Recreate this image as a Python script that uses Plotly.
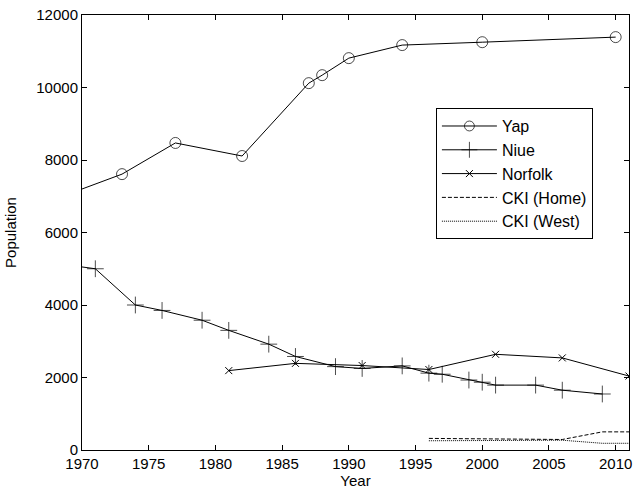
import plotly.graph_objects as go

yap_years = [1970, 1973, 1977, 1982, 1987, 1988, 1990, 1994, 2000, 2010]
yap_pop = [7200, 7610, 8470, 8110, 10120, 10340, 10810, 11170, 11250, 11390]

niue_years = [1970, 1971, 1974, 1976, 1979, 1981, 1984, 1986, 1989, 1991, 1994, 1996, 1997, 1999, 2000, 2001, 2004, 2006, 2009]
niue_pop = [5050, 5000, 4000, 3850, 3580, 3300, 2920, 2580, 2300, 2250, 2320, 2120, 2090, 1930, 1870, 1790, 1790, 1650, 1545]

norfolk_years = [1981, 1986, 1991, 1996, 2001, 2006, 2011]
norfolk_pop = [2190, 2390, 2330, 2220, 2640, 2540, 2040]

ckih_years = [1996, 2001, 2006, 2009, 2011]
ckih_pop = [320, 300, 290, 500, 500]

ckiw_years = [1996, 2001, 2006, 2009, 2011]
ckiw_pop = [255, 260, 270, 185, 185]

x_ticks = [1970, 1975, 1980, 1985, 1990, 1995, 2000, 2005, 2010]
y_ticks = [0, 2000, 4000, 6000, 8000, 10000, 12000]

FONT = "Liberation Sans, Arial, sans-serif"

fig = go.Figure()
fig.add_trace(go.Scatter(
    x=yap_years, y=yap_pop, name="Yap", mode="lines+markers",
    line=dict(color="black", width=1),
    marker=dict(symbol="circle-open", size=[0] + [11] * (len(yap_years) - 1),
                color="black", line=dict(width=1)),
))
fig.add_trace(go.Scatter(
    x=niue_years, y=niue_pop, name="Niue", mode="lines+markers",
    line=dict(color="black", width=1),
    marker=dict(symbol="cross-thin-open", size=[0] + [12] * (len(niue_years) - 1),
                color="black", line=dict(width=1, color="black")),
))
fig.add_trace(go.Scatter(
    x=norfolk_years, y=norfolk_pop, name="Norfolk", mode="lines+markers",
    line=dict(color="black", width=1),
    marker=dict(symbol="x-thin-open", size=7, color="black",
                line=dict(width=1, color="black")),
))
fig.add_trace(go.Scatter(
    x=ckih_years, y=ckih_pop, name="CKI (Home)", mode="lines",
    line=dict(color="black", width=1, dash="4px,2px"),
))
fig.add_trace(go.Scatter(
    x=ckiw_years, y=ckiw_pop, name="CKI (West)", mode="lines",
    line=dict(color="black", width=1, dash="1px,1px"),
))

axis_common = dict(
    showgrid=False, zeroline=False, showline=True, linecolor="black", linewidth=1,
    mirror="ticks", ticks="inside", ticklen=5, tickcolor="black",
    tickfont=dict(family=FONT, size=15, color="black"),
    ticklabeloverflow="allow",
)
fig.update_xaxes(range=[1970, 2011], tickvals=x_ticks, tickformat="d",
                 title=dict(text="Year", font=dict(family=FONT, size=15, color="black"), standoff=2),
                 **axis_common)
fig.update_yaxes(range=[0, 12000], tickvals=y_ticks, tickformat="d",
                 title=dict(text="Population", font=dict(family=FONT, size=15, color="black"), standoff=16),
                 **axis_common)

fig.update_layout(
    width=636, height=494,
    margin=dict(l=82, r=4, t=15, b=44),
    paper_bgcolor="white", plot_bgcolor="white",
    font=dict(family=FONT, size=15, color="black"),
    showlegend=True,
    legend=dict(x=0.647, y=0.786, xanchor="left", yanchor="top",
                bordercolor="black", borderwidth=1, bgcolor="white",
                font=dict(family=FONT, size=16), tracegroupgap=0, itemwidth=55),
)

fig.write_html("out.html", config={"displayModeBar": False},
               post_script="document.body.style.margin='0';")
